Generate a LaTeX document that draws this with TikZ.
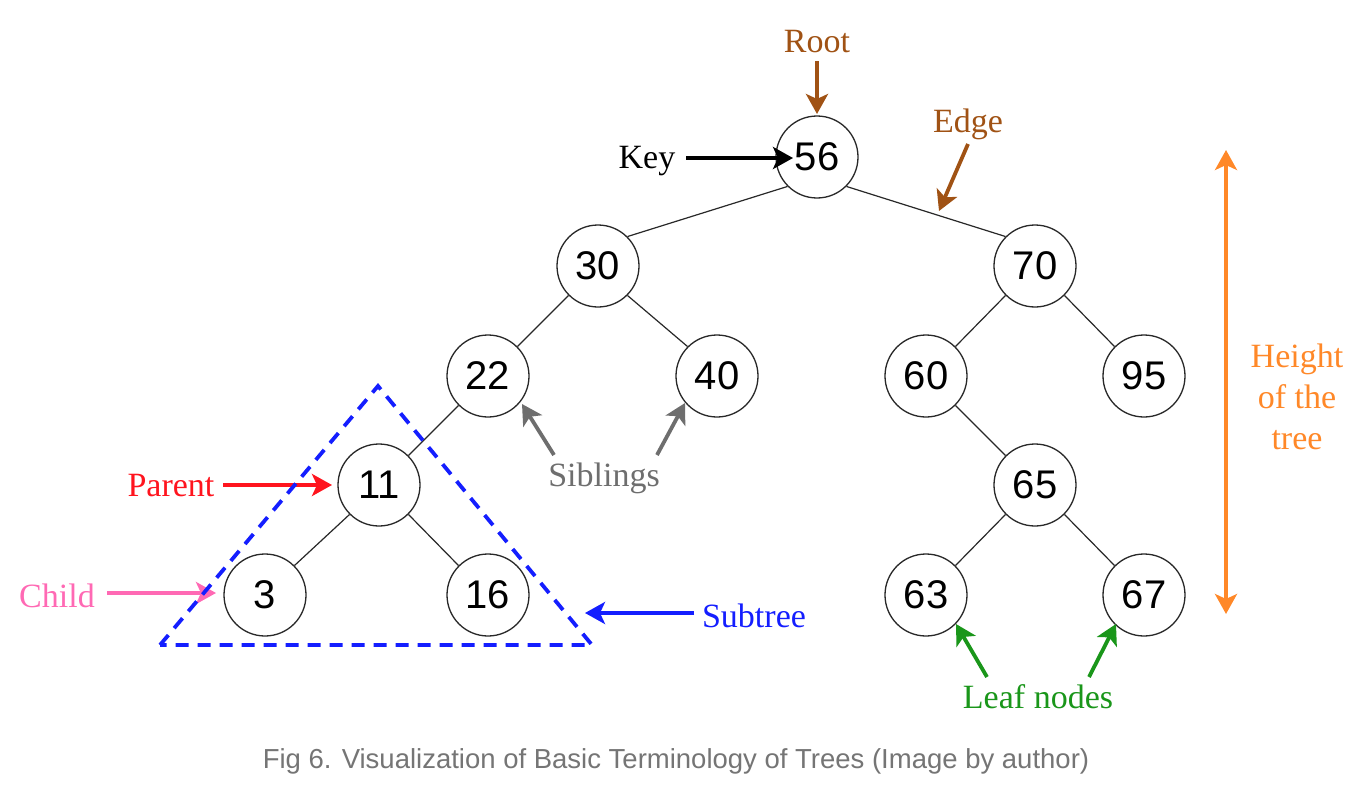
\documentclass[tikz,border=0pt]{standalone}
\usepackage{fontspec}
\setmainfont{Liberation Serif}
\newfontfamily\numfont{Liberation Sans}
\usetikzlibrary{arrows.meta}
\definecolor{cbrown}{RGB}{160,82,20}
\definecolor{cred}{RGB}{255,20,30}
\definecolor{cpink}{RGB}{255,105,180}
\definecolor{cblue}{RGB}{20,30,255}
\definecolor{cgray}{RGB}{110,110,110}
\definecolor{cgreen}{RGB}{26,150,26}
\definecolor{corange}{RGB}{255,136,40}
\definecolor{ccap}{RGB}{117,117,117}
\definecolor{cedge}{RGB}{40,40,40}
\tikzset{
  treenode/.style={circle,draw=cedge,line width=1.3pt,fill=white,minimum size=82pt,inner sep=0pt,font=\numfont\fontsize{40}{44}\selectfont},
  treeedge/.style={draw=cedge,line width=1.2pt},
  lbl/.style={inner sep=0pt,font=\fontsize{34}{41}\selectfont},
  ptr/.style={line width=3.8pt,-{Stealth[length=20pt,width=22pt,inset=5pt]}},
}
\begin{document}
\begin{tikzpicture}[x=1pt,y=-1pt]
\useasboundingbox[fill=white] (0,0) rectangle (1366,800);
% tree nodes
\node[treenode] (n56) at (817,157) {56};
\node[treenode] (n30) at (598,266) {30};
\node[treenode] (n70) at (1035,266) {70};
\node[treenode] (n22) at (488,376) {22};
\node[treenode] (n40) at (717,376) {40};
\node[treenode] (n60) at (926,376) {60};
\node[treenode] (n95) at (1144,376) {95};
\node[treenode] (n11) at (379,485) {11};
\node[treenode] (n65) at (1035,485) {65};
\node[treenode] (n3) at (265,595) {3};
\node[treenode] (n16) at (488,595) {16};
\node[treenode] (n63) at (926,595) {63};
\node[treenode] (n67) at (1144,595) {67};
% edges (parent lower-left/right point to child upper point)
\foreach \a/\b in {n56/n30,n30/n22,n70/n60,n22/n11,n11/n3,n65/n63}
  \draw[treeedge] (\a.225) -- (\b.45);
\foreach \a/\b in {n56/n70,n30/n40,n70/n95,n11/n16,n60/n65,n65/n67}
  \draw[treeedge] (\a.-45) -- (\b.135);
% labels
\node[lbl,text=cbrown] (root) at (817,42) {Root};
\node[lbl,text=cbrown] (edge) at (968,124) {Edge};
\node[lbl,text=black] (key) at (647,161) {Key};
\node[lbl,text=cgray] (sib) at (604,478) {Siblings};
\node[lbl,text=cred] (parent) at (171,486) {Parent};
\node[lbl,text=cpink] (child) at (57,596) {Child};
\node[lbl,text=cblue] (subtree) at (754,616) {Subtree};
\node[lbl,text=cgreen] (leaf) at (1038,697) {Leaf nodes};
\node[lbl,text=corange,align=center] (height) at (1297,397) {Height\\of the\\tree};
% arrows
\coordinate (rootS) at (817,61);
\coordinate (rootT) at (817,114);
\draw[ptr,draw=cbrown,fill=cbrown] (rootS) -- (rootT);
\coordinate (edgeS) at (968,144);
\coordinate (edgeT) at (939,211);
\draw[ptr,draw=cbrown,fill=cbrown] (edgeS) -- (edgeT);
\coordinate (keyS) at (686,158);
\coordinate (keyT) at (793,158);
\draw[ptr,draw=black] (keyS) -- (keyT);
\coordinate (sibS1) at (554,455);
\coordinate (sibT1) at (522,404);
\draw[ptr,draw=cgray] (sibS1) -- (sibT1);
\coordinate (sibS2) at (657,455);
\coordinate (sibT2) at (685,403);
\draw[ptr,draw=cgray] (sibS2) -- (sibT2);
\coordinate (parS) at (223,485);
\coordinate (parT) at (332,485);
\draw[ptr,draw=cred] (parS) -- (parT);
\coordinate (chS) at (107,593);
\coordinate (chT) at (216,593);
\draw[ptr,draw=cpink] (chS) -- (chT);
\coordinate (subS) at (694,613);
\coordinate (subT) at (585,613);
\draw[ptr,draw=cblue] (subS) -- (subT);
\coordinate (lfS1) at (987,677);
\coordinate (lfT1) at (956,624);
\draw[ptr,draw=cgreen] (lfS1) -- (lfT1);
\coordinate (lfS2) at (1089,677);
\coordinate (lfT2) at (1116,624);
\draw[ptr,draw=cgreen] (lfS2) -- (lfT2);
\coordinate (hTop) at (1226,150);
\coordinate (hBot) at (1226,614);
\draw[draw=corange,line width=3.5pt,{Stealth[length=20pt,width=22pt,inset=5pt]}-{Stealth[length=20pt,width=22pt,inset=5pt]}] (hTop) -- (hBot);
% subtree triangle
\coordinate (triL) at (160,645);
\coordinate (triA) at (378,386);
\coordinate (triR) at (592,645);
\draw[cblue,line width=3.8pt,dash pattern=on 13pt off 9pt] (triL) -- (triA) -- (triR) -- cycle;
% caption
\node[inner sep=0pt,text=ccap,font=\numfont\fontsize{27.5}{32}\selectfont] (cap) at (676,761) {Fig 6. Visualization of Basic Terminology of Trees (Image by author)};
\end{tikzpicture}
\end{document}
